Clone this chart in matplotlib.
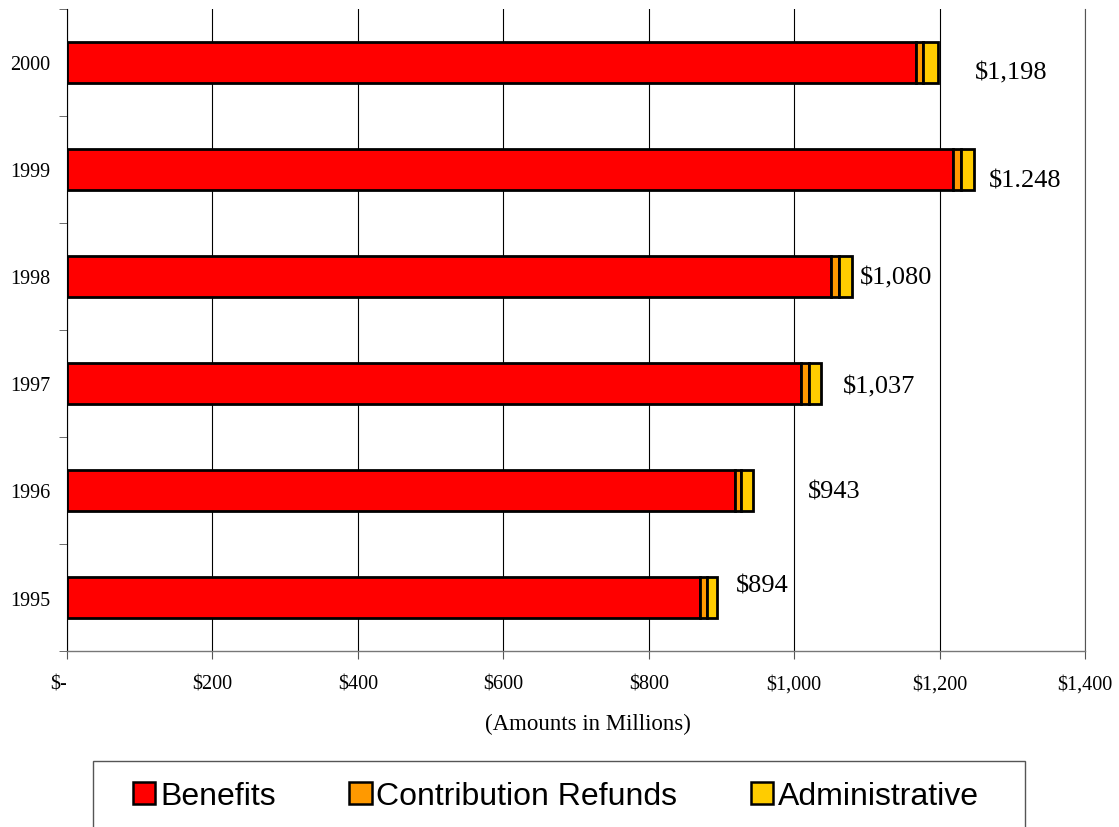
import numpy as np
import matplotlib.pyplot as plt
import matplotlib.transforms as mtransforms
from matplotlib.patches import Rectangle, Patch

# Datos (millones de dólares)
years = ['1995', '1996', '1997', '1998', '1999', '2000']
benefits = [871, 918, 1009, 1051, 1218, 1167]
refunds = [9, 9, 12, 11, 11, 10]
admin = [14, 16, 16, 18, 19, 21]
total_labels = ['$894', '$943', '$1,037', '$1,080', '$1.248', '$1,198']

# posiciones de las etiquetas (desplazamiento respecto al total)
label_dx = [26, 76, 30, 10, 20, 50]
label_dy = [0.11, -0.01, -0.03, -0.01, -0.10, -0.09]

c_ben = '#ff0000'
c_ref = '#ff9900'
c_adm = '#ffcc00'

fig = plt.figure(figsize=(11.19, 8.28), dpi=100)
ax = fig.add_axes([67/1119, 1-652/828, (1085-67)/1119, (652-10)/828])

y = np.arange(len(years))
b = np.array(benefits)
r = np.array(refunds)
a = np.array(admin)
h = 0.39
ax.barh(y, b, height=h, color=c_ben, edgecolor='black', linewidth=2, zorder=3)
ax.barh(y, r, left=b, height=h, color=c_ref, edgecolor='black', linewidth=2, zorder=3)
ax.barh(y, a, left=b + r, height=h, color=c_adm, edgecolor='black', linewidth=2, zorder=3)

tot = b + r + a
for i in range(len(years)):
    ax.text(tot[i] + label_dx[i], y[i] + label_dy[i], total_labels[i], va='center', ha='left',
            fontsize=19, family='Liberation Serif', zorder=4)

ax.set_xlim(0, 1400)
ax.set_ylim(-0.5, 5.5)
xt = np.arange(0, 1401, 200)
ax.set_xticks(xt)
ax.set_xticklabels(['$-'] + ['${:,}'.format(v) for v in xt[1:]], family='Liberation Serif', fontsize=14.5)
lab0 = ax.get_xticklabels()[0]
lab0.set_ha('right')
lab0.set_transform(lab0.get_transform() + mtransforms.ScaledTranslation(-4/100, 0, fig.dpi_scale_trans))
ax.set_yticks(y)
ax.set_yticklabels(years, family='Liberation Serif', fontsize=14.5)
ax.set_yticks(np.arange(-0.5, 6, 1), minor=True)
ax.tick_params(axis='y', which='major', length=0, pad=12)
ax.tick_params(axis='y', which='minor', length=6, color='#555555', direction='out')
ax.tick_params(axis='x', length=6, direction='out', pad=11, color='#555555')
ax.grid(axis='x', color='black', linewidth=0.8, zorder=0)
ax.set_axisbelow(True)

ax.spines['top'].set_visible(False)
ax.spines['right'].set_color('#555555')
ax.spines['bottom'].set_color('#777777')
ax.spines['left'].set_color('black')
ax.spines['bottom'].set_linewidth(1.0)

ax.set_xlabel('(Amounts in Millions)', family='Liberation Serif', fontsize=16.5)
ax.xaxis.set_label_coords(0.512, -0.097)

# Leyenda con marco cortado en el borde inferior
fig.patches.append(Rectangle((93/1119, -0.05), (1025-93)/1119, 0.05 + 1-762/828,
                             transform=fig.transFigure, facecolor='white',
                             edgecolor='#555555', linewidth=1.0))
handles = [Patch(facecolor=c_ben, edgecolor='black', linewidth=1.8, label='Benefits'),
           Patch(facecolor=c_ref, edgecolor='black', linewidth=1.8, label='Contribution Refunds'),
           Patch(facecolor=c_adm, edgecolor='black', linewidth=1.8, label='Administrative')]
fig.legend(handles=handles, loc='center', bbox_to_anchor=(556/1119, 1-797/828), ncol=3,
           frameon=False, prop={'family': 'Liberation Sans', 'size': 23},
           handlelength=0.7, handleheight=0.7, handletextpad=0.15, columnspacing=2.3)

plt.savefig('out.png', dpi=100)
